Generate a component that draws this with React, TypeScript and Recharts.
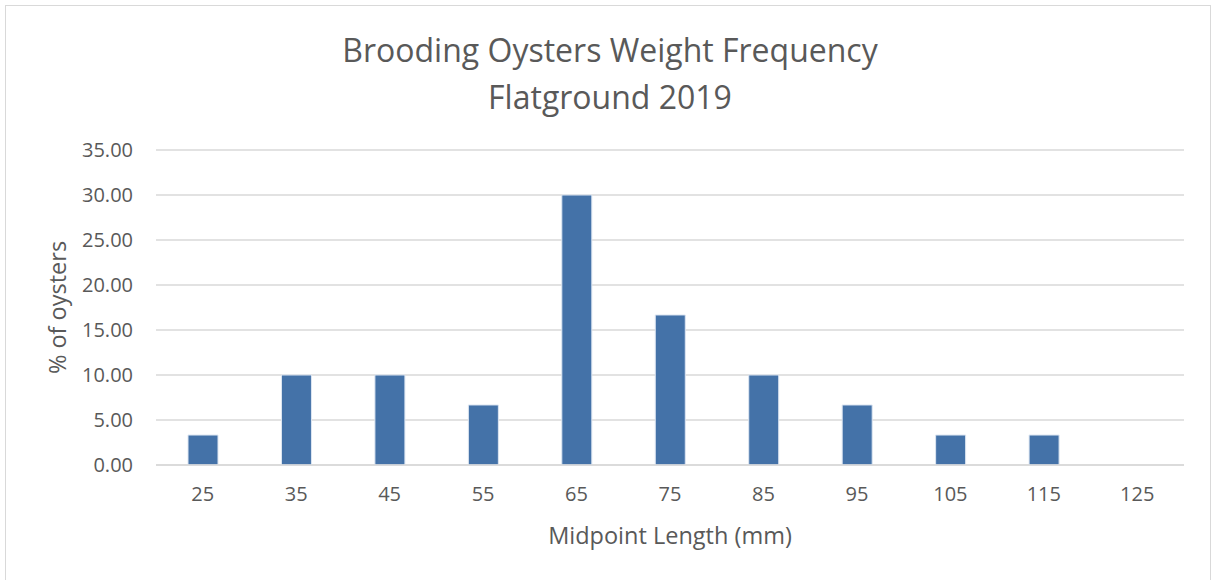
import React from "react";
import { BarChart, Bar, XAxis, YAxis, CartesianGrid } from "recharts";

const categories = ["25", "35", "45", "55", "65", "75", "85", "95", "105", "115", "125"];
const percentOysters = [3.33, 10, 10, 6.67, 30, 16.67, 10, 6.67, 3.33, 3.33, 0];
const yTicks = [0, 5, 10, 15, 20, 25, 30, 35];

const data = categories.map((c, i) => ({ mid: c, pct: percentOysters[i] }));

const FONT = "'Open Sans', sans-serif";
const TEXT = "#595959";

export default function App() {
  return (
    <div style={{ position: "absolute", left: 0, top: 0, width: 1213, height: 580, background: "#fff", fontFamily: FONT }}>
      <div style={{ position: "absolute", left: 5, top: 5, width: 1206, height: 600, border: "1.5px solid #d9d9d9", boxSizing: "border-box" }} />
      <div style={{ position: "absolute", left: 0, width: 1220, top: 26, textAlign: "center", color: TEXT, fontSize: 32, lineHeight: "47px" }}>
        <div>Brooding Oysters Weight Frequency</div>
        <div>Flatground 2019</div>
      </div>
      <div style={{ position: "absolute", left: 0, top: 0 }}>
        <BarChart width={1213} height={580} data={data} margin={{ top: 150, right: 29, bottom: 0, left: 0 }}>
          <CartesianGrid vertical={false} stroke="#d9d9d9" strokeWidth={1.5} />
          <XAxis
            dataKey="mid"
            axisLine={{ stroke: "#d9d9d9", strokeWidth: 1.5 }}
            tickLine={false}
            tickSize={0}
            tickMargin={22}
            tick={{ fill: TEXT, fontSize: 20, fontFamily: FONT }}
            interval={0}
            height={115}
            label={{ value: "Midpoint Length (mm)", position: "insideBottom", offset: 36, fill: TEXT, fontSize: 23.5, fontFamily: FONT }}
          />
          <YAxis
            width={156}
            domain={[0, 35]}
            ticks={yTicks}
            axisLine={false}
            tickLine={false}
            tickSize={0}
            tickMargin={23}
            tickFormatter={(v: number) => v.toFixed(2)}
            tick={{ fill: TEXT, fontSize: 20, fontFamily: FONT }}
            label={{ value: "% of oysters", angle: -90, position: "insideLeft", offset: 58, fill: TEXT, fontSize: 23.5, fontFamily: FONT, style: { textAnchor: "middle" } }}
          />
          <Bar dataKey="pct" fill="#4472A8" stroke="#dde6f2" strokeWidth={1} barSize={30} isAnimationActive={false} />
        </BarChart>
      </div>
    </div>
  );
}
